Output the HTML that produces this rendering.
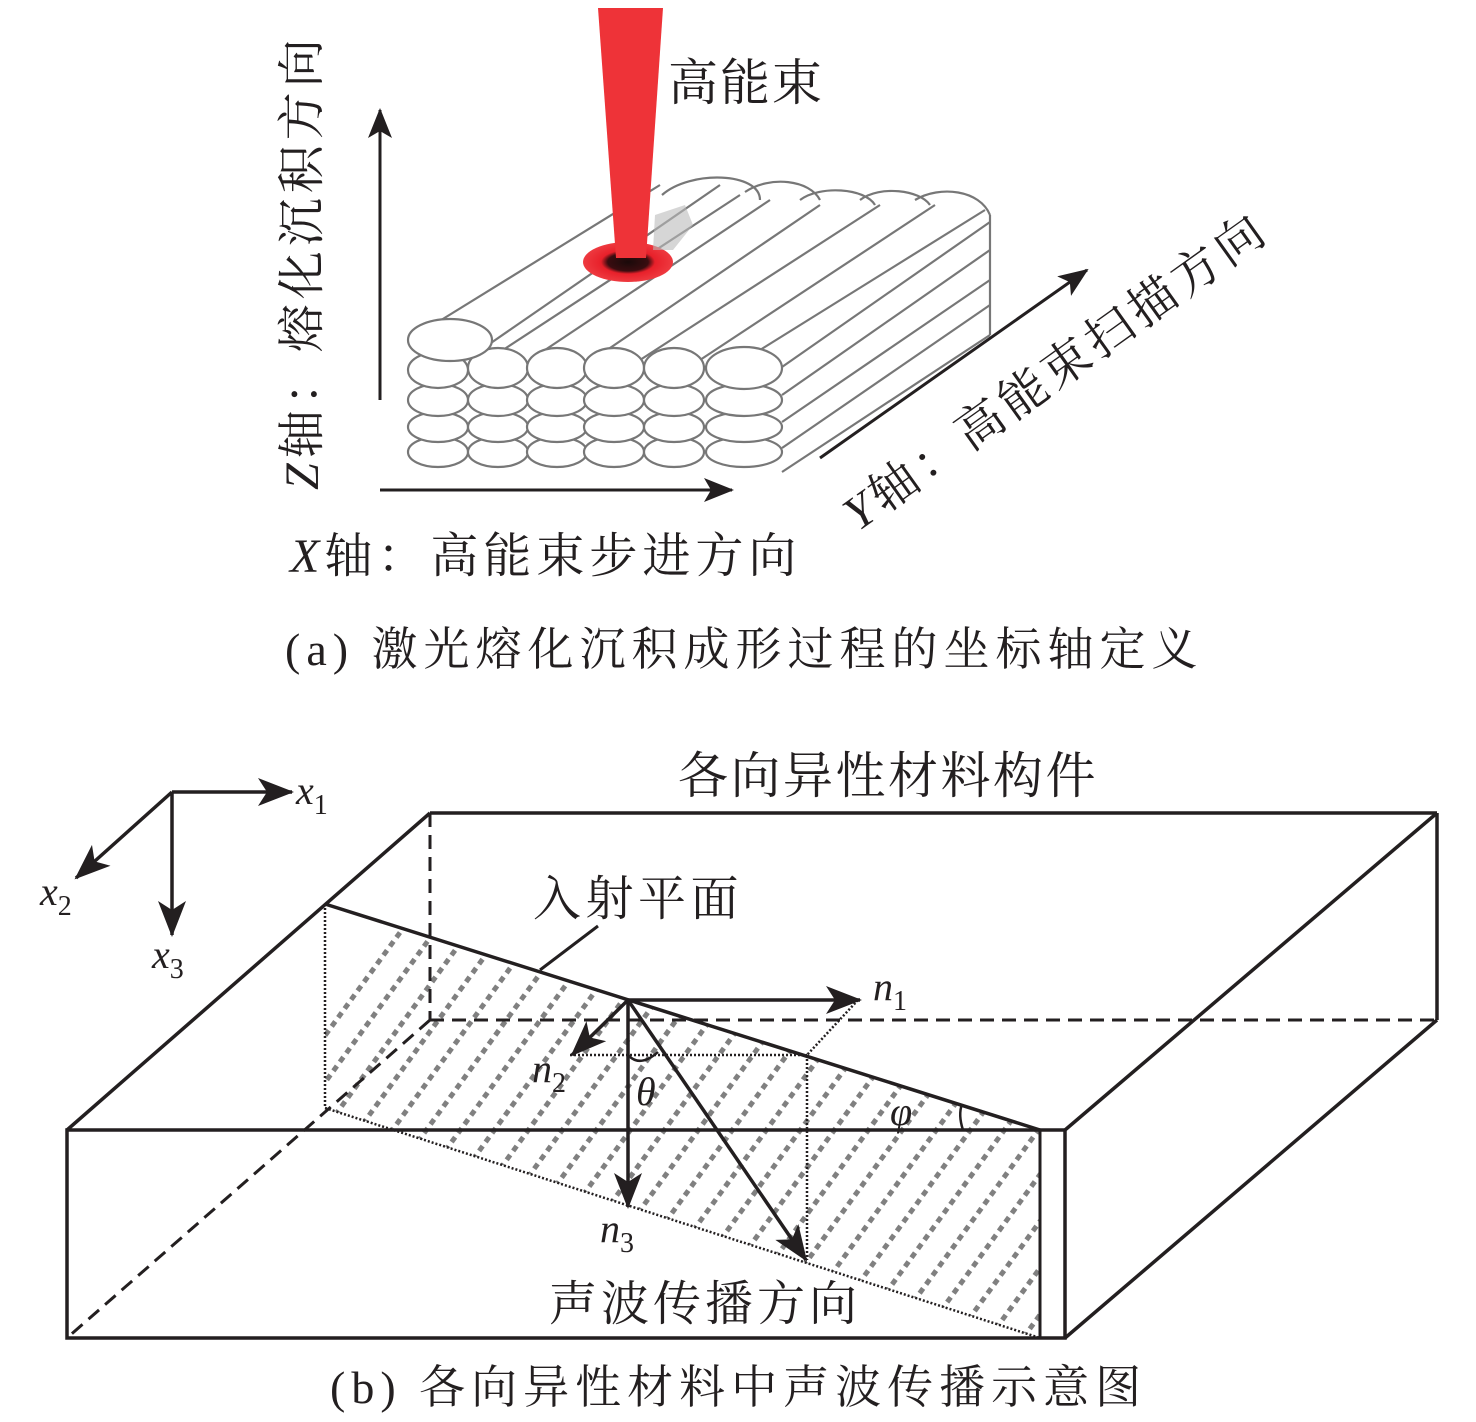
<!DOCTYPE html>
<html><head><meta charset="utf-8"><style>
html,body{margin:0;padding:0;background:#fff}
svg{display:block}
text{font-family:"Liberation Serif","Noto Serif CJK SC","Noto Sans CJK SC",serif;fill:#231f20}
</style></head><body>
<svg width="1476" height="1422" viewBox="0 0 1476 1422" xmlns="http://www.w3.org/2000/svg">
<defs>
<marker id="ahs" markerWidth="30" markerHeight="24" refX="28" refY="12" orient="auto" markerUnits="userSpaceOnUse" viewBox="0 0 30 24">
<path d="M0,0 L30,12 L0,24 L7,12 Z" fill="#231f20"/></marker>
<marker id="ahb" markerWidth="36" markerHeight="28" refX="34" refY="14" orient="auto" markerUnits="userSpaceOnUse" viewBox="0 0 36 28">
<path d="M0,0 L36,14 L0,28 L9,14 Z" fill="#231f20"/></marker>
<clipPath id="pc"><polygon points="325,904 1040,1130 1040,1338 325,1108"/></clipPath>
<radialGradient id="spot" cx="50%" cy="50%" r="50%"><stop offset="0" stop-color="#1a0a0a"/><stop offset="0.45" stop-color="#3a0d10"/><stop offset="0.6" stop-color="#e8202a"/><stop offset="1" stop-color="#ee3a40"/></radialGradient>
</defs>

<!-- ===== Part (a) ===== -->
<g fill="#fff" stroke="#777" stroke-width="2.2">
<g fill="none">
<path d="M425,330 L660,185"/>
<path d="M488,345 L720,185"/>
<path d="M480,365 L740,195"/>
<path d="M530,360 L770,200"/>
<path d="M585,365 L820,205"/>
<path d="M640,360 L880,205"/>
<path d="M700,360 L935,205"/>
<path d="M760,350 L985,210"/>
<path d="M782,367 L990,222"/>
<path d="M782,395 L990,250"/>
<path d="M782,422 L990,280"/>
<path d="M782,448 L990,305"/>
<path d="M782,472 L990,335"/>
<path d="M990,215 L990,335"/>
<path d="M745,192 C770,175 810,180 820,200"/>
<path d="M800,200 C820,185 865,188 875,205"/>
<path d="M860,200 C880,185 920,190 930,205"/>
<path d="M915,200 C940,185 980,190 990,215"/>
<path d="M662,195 C690,170 760,172 760,200"/>
</g>
<g>
<ellipse cx="438" cy="452" rx="30" ry="15"/><ellipse cx="498" cy="452" rx="30" ry="15"/><ellipse cx="557" cy="452" rx="30" ry="15"/><ellipse cx="614" cy="452" rx="30" ry="15"/><ellipse cx="674" cy="452" rx="30" ry="15"/><ellipse cx="744" cy="452" rx="38" ry="15"/>
<ellipse cx="438" cy="427" rx="30" ry="15"/><ellipse cx="498" cy="427" rx="30" ry="15"/><ellipse cx="557" cy="427" rx="30" ry="15"/><ellipse cx="614" cy="427" rx="30" ry="15"/><ellipse cx="674" cy="427" rx="30" ry="15"/><ellipse cx="744" cy="427" rx="38" ry="15"/>
<ellipse cx="438" cy="400" rx="30" ry="16"/><ellipse cx="498" cy="400" rx="30" ry="16"/><ellipse cx="557" cy="400" rx="30" ry="16"/><ellipse cx="614" cy="400" rx="30" ry="16"/><ellipse cx="674" cy="400" rx="30" ry="16"/><ellipse cx="744" cy="400" rx="38" ry="16"/>
<ellipse cx="438" cy="370" rx="30" ry="18"/><ellipse cx="498" cy="368" rx="30" ry="20"/><ellipse cx="557" cy="368" rx="30" ry="20"/><ellipse cx="614" cy="368" rx="30" ry="20"/><ellipse cx="674" cy="368" rx="30" ry="20"/><ellipse cx="744" cy="368" rx="38" ry="21"/>
<ellipse cx="450" cy="340" rx="42" ry="21"/>
</g>
</g>
<ellipse cx="628" cy="262" rx="45" ry="20" fill="url(#spot)"/>
<path d="M655,215 l30,-10 l8,20 l-20,25 l-20,0 z" fill="#bbb" opacity="0.6"/>
<polygon points="598,8 663,8 646,258 616,258" fill="#ee3338"/>

<line x1="380" y1="400" x2="380" y2="110" stroke="#231f20" stroke-width="3" marker-end="url(#ahs)"/>
<line x1="380" y1="490" x2="732" y2="490" stroke="#231f20" stroke-width="3" marker-end="url(#ahs)"/>
<line x1="820" y1="458" x2="1087" y2="270" stroke="#231f20" stroke-width="3" marker-end="url(#ahs)"/>

<text x="668" y="100" font-size="50" letter-spacing="2">高能束</text>
<text transform="translate(318,490) rotate(-90)" font-size="48" letter-spacing="5"><tspan font-style="italic">Z</tspan>轴：熔化沉积方向</text>
<text x="290" y="572" font-size="48" letter-spacing="5"><tspan font-style="italic">X</tspan>轴：高能束步进方向</text>
<text transform="translate(858,532) rotate(-35.5)" font-size="48" letter-spacing="5"><tspan font-style="italic">Y</tspan>轴：高能束扫描方向</text>
<text x="285" y="665" font-size="46" letter-spacing="6">(a) 激光熔化沉积成形过程的坐标轴定义</text>

<!-- ===== Part (b) ===== -->
<g clip-path="url(#pc)" stroke="#808080" stroke-width="5" stroke-dasharray="6,5">
<path d="M60,1400 L460,850 M94,1400 L494,850 M128,1400 L528,850 M162,1400 L562,850 M196,1400 L596,850 M230,1400 L630,850 M264,1400 L664,850 M298,1400 L698,850 M332,1400 L732,850 M366,1400 L766,850 M400,1400 L800,850 M434,1400 L834,850 M468,1400 L868,850 M502,1400 L902,850 M536,1400 L936,850 M570,1400 L970,850 M604,1400 L1004,850 M638,1400 L1038,850 M672,1400 L1072,850 M706,1400 L1106,850 M740,1400 L1140,850 M774,1400 L1174,850 M808,1400 L1208,850 M842,1400 L1242,850 M876,1400 L1276,850 M910,1400 L1310,850 M944,1400 L1344,850 M978,1400 L1378,850 M1012,1400 L1412,850 M1046,1400 L1446,850 M1080,1400 L1480,850"/>
</g>
<g fill="none" stroke="#231f20">
<rect x="67" y="1130" width="998" height="208" stroke-width="3.5"/>
<line x1="67" y1="1130" x2="430" y2="813" stroke-width="3.5"/>
<line x1="430" y1="813" x2="1437" y2="813" stroke-width="3.5"/>
<line x1="1437" y1="813" x2="1065" y2="1130" stroke-width="3.5"/>
<line x1="1437" y1="813" x2="1437" y2="1020" stroke-width="3.5"/>
<line x1="1437" y1="1020" x2="1065" y2="1338" stroke-width="3.5"/>
<g stroke-width="3" stroke-dasharray="14,8">
<line x1="430" y1="813" x2="430" y2="1020"/>
<line x1="430" y1="1020" x2="1437" y2="1020"/>
<line x1="430" y1="1020" x2="67" y2="1338"/>
</g>
<line x1="325" y1="904" x2="1040" y2="1130" stroke-width="3.5"/>
<line x1="1040" y1="1130" x2="1040" y2="1338" stroke-width="3"/>
<g stroke-width="2.5" stroke-dasharray="2,2">
<line x1="325" y1="904" x2="325" y2="1108"/>
<line x1="325" y1="1108" x2="1040" y2="1338"/>
<line x1="570" y1="1055" x2="807" y2="1055"/>
<line x1="807" y1="1055" x2="807" y2="1260"/>
<line x1="858" y1="1000" x2="807" y2="1055"/>
</g>
<line x1="540" y1="970" x2="598" y2="926" stroke-width="3"/>
<line x1="628" y1="1000" x2="860" y2="1000" stroke-width="3.5" marker-end="url(#ahb)"/>
<line x1="628" y1="1000" x2="572" y2="1055" stroke-width="3.5" marker-end="url(#ahb)"/>
<line x1="628" y1="1000" x2="628" y2="1207" stroke-width="3.5" marker-end="url(#ahb)"/>
<line x1="628" y1="1000" x2="806" y2="1260" stroke-width="3.5" marker-end="url(#ahb)"/>
<path d="M628,1055 Q640,1068 658,1052" stroke-width="2.5"/>
<path d="M963,1130 Q958,1115 962,1104" stroke-width="2.5"/>
<line x1="172" y1="792" x2="292" y2="792" stroke-width="3.5" marker-end="url(#ahb)"/>
<line x1="172" y1="792" x2="76" y2="878" stroke-width="3.5" marker-end="url(#ahb)"/>
<line x1="172" y1="792" x2="172" y2="935" stroke-width="3.5" marker-end="url(#ahb)"/>
</g>
<text x="296" y="804" font-size="40" font-style="italic">x<tspan font-size="28" font-style="normal" dy="10">1</tspan></text>
<text x="40" y="905" font-size="40" font-style="italic">x<tspan font-size="28" font-style="normal" dy="10">2</tspan></text>
<text x="152" y="968" font-size="40" font-style="italic">x<tspan font-size="28" font-style="normal" dy="10">3</tspan></text>
<text x="873" y="1000" font-size="40" font-style="italic">n<tspan font-size="28" font-style="normal" dy="10">1</tspan></text>
<text x="532" y="1082" font-size="40" font-style="italic">n<tspan font-size="28" font-style="normal" dy="10">2</tspan></text>
<text x="600" y="1242" font-size="40" font-style="italic">n<tspan font-size="28" font-style="normal" dy="10">3</tspan></text>
<text x="636" y="1105" font-size="40" font-style="italic">θ</text>
<text x="890" y="1125" font-size="40" font-style="italic">φ</text>
<text x="678" y="793" font-size="50" letter-spacing="2.5">各向异性材料构件</text>
<text x="533" y="915" font-size="48" letter-spacing="4.5">入射平面</text>
<text x="549" y="1320" font-size="48" letter-spacing="4">声波传播方向</text>
<text x="330" y="1403" font-size="46" letter-spacing="6">(b) 各向异性材料中声波传播示意图</text>
</svg>
</body></html>
